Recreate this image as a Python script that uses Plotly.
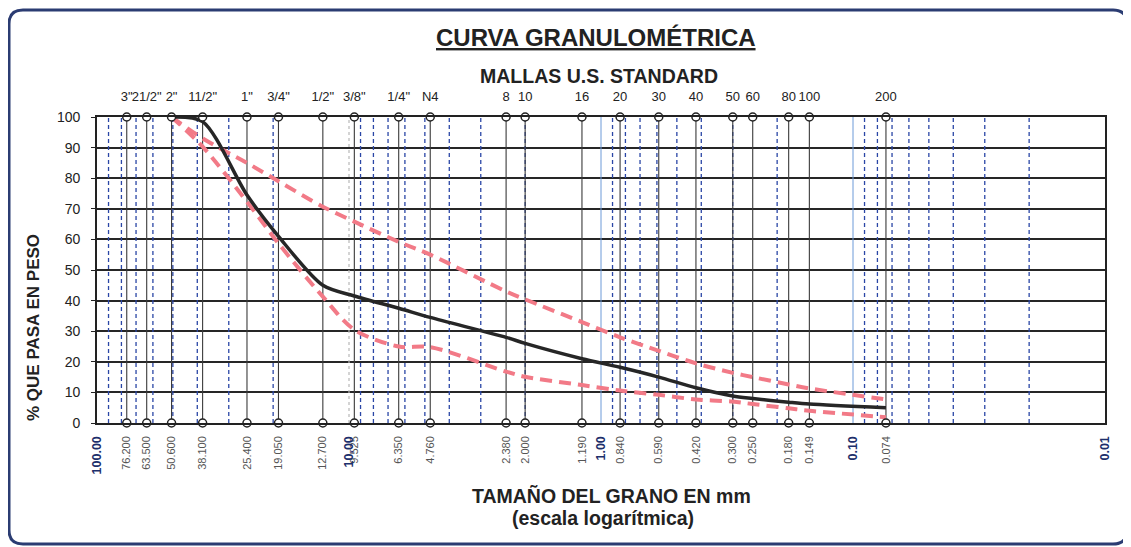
import plotly.graph_objects as go

# ---------------- data ----------------
sieve_mm = [76.2, 63.5, 50.6, 38.1, 25.4, 19.05, 12.7, 9.525, 6.35, 4.76, 2.38, 2.0,
            1.19, 0.84, 0.59, 0.42, 0.30, 0.25, 0.18, 0.149, 0.074]
sieve_names = ['3"', '21/2"', '2"', '11/2"', '1"', '3/4"', '1/2"', '3/8"', '1/4"', 'N4',
               '8', '10', '16', '20', '30', '40', '50', '60', '80', '100', '200']
sieve_labels = ['76.200', '63.500', '50.600', '38.100', '25.400', '19.050', '12.700', '9.525',
                '6.350', '4.760', '2.380', '2.000', '1.190', '0.840', '0.590', '0.420',
                '0.300', '0.250', '0.180', '0.149', '0.074']
decades = [100, 10, 1, 0.1, 0.01]
decade_labels = ['100.00', '10.00', '1.00', '0.10', '0.01']
minor_grid = [90, 80, 70, 60, 50, 40, 30, 20,
              9, 8, 7, 6, 5, 4, 3, 2,
              0.9, 0.8, 0.7, 0.6, 0.5, 0.4, 0.3, 0.2,
              0.09, 0.08, 0.07, 0.06, 0.05, 0.04, 0.03, 0.02]
y_ticks = [0, 10, 20, 30, 40, 50, 60, 70, 80, 90, 100]

curve_mm = [50.6, 38.1, 25.4, 19.05, 12.7, 9.525, 6.35, 4.76, 2.38, 2.0,
            1.19, 0.84, 0.59, 0.42, 0.30, 0.25, 0.18, 0.149, 0.074]
passing = [100, 98.5, 74.5, 61, 45, 41.5, 37.5, 34.5, 28, 26,
           21, 18.2, 15, 11.5, 8.8, 8, 6.8, 6.2, 5]
upper = [100, 93, 85, 79, 70.7, 65.8, 59.2, 55, 43, 40.4,
         33, 28, 23.6, 19.5, 16.4, 15, 12.6, 11.3, 7.7]
lower = [100, 90.3, 72.3, 58.7, 41.3, 30.5, 25, 24.8, 16.8, 15.1,
         12.4, 10.6, 9.2, 7.7, 7.0, 6.2, 4.8, 4.0, 1.9]

FONT = "Liberation Sans, Arial, sans-serif"


def vlines(vals, y0=0, y1=100):
    xs, ys = [], []
    for v in vals:
        xs += [v, v, None]
        ys += [y0, y1, None]
    return xs, ys


fig = go.Figure()

# minor blue dashed grid
xs, ys = vlines(minor_grid)
fig.add_trace(go.Scatter(x=xs, y=ys, mode="lines", hoverinfo="skip", showlegend=False,
                         line=dict(color="#2a46a6", width=1.3, dash="4px,3px")))
# decade lines
xs, ys = vlines([1, 0.1])
fig.add_trace(go.Scatter(x=xs, y=ys, mode="lines", hoverinfo="skip", showlegend=False,
                         line=dict(color="#6d9ad8", width=1)))
xs, ys = vlines([10])
fig.add_trace(go.Scatter(x=xs, y=ys, mode="lines", hoverinfo="skip", showlegend=False,
                         line=dict(color="#b8b8b8", width=1.2, dash="dot")))
# sieve lines
xs, ys = vlines(sieve_mm)
fig.add_trace(go.Scatter(x=xs, y=ys, mode="lines", hoverinfo="skip", showlegend=False,
                         line=dict(color="#3a3a3a", width=1.1)))

# limit curves
fig.add_trace(go.Scatter(x=curve_mm, y=upper, mode="lines", showlegend=False,
                         line=dict(color="#f27a87", width=4, dash="12px,7px",
                                   shape="spline", smoothing=0.9)))
fig.add_trace(go.Scatter(x=curve_mm, y=lower, mode="lines", showlegend=False,
                         line=dict(color="#f27a87", width=4, dash="12px,7px",
                                   shape="spline", smoothing=0.9)))
# gradation curve
fig.add_trace(go.Scatter(x=curve_mm, y=passing, mode="lines", showlegend=False,
                         line=dict(color="#262626", width=3.5, shape="spline", smoothing=0.8)))

# circle markers top and bottom
mk = dict(symbol="circle", size=8, color="white", line=dict(color="#222", width=1.5))
fig.add_trace(go.Scatter(x=sieve_mm, y=[100] * len(sieve_mm), xaxis="x2", mode="markers",
                         marker=mk, cliponaxis=False, showlegend=False, hoverinfo="skip"))
fig.add_trace(go.Scatter(x=sieve_mm, y=[0] * len(sieve_mm), mode="markers",
                         marker=mk, cliponaxis=False, showlegend=False, hoverinfo="skip"))

# bottom tick labels
tickvals = sieve_mm + decades
ticktext = sieve_labels + [
    "<b><span style='color:#1d2f6b;font-size:12.5px'>%s</span></b>" % t for t in decade_labels]

# page has an 8px body margin: offset figure margins accordingly
OFF = 8
fig.update_layout(
    width=1131, height=547,
    margin=dict(l=97 - OFF, r=26 + OFF, t=117 - OFF, b=124 + OFF),
    paper_bgcolor="white", plot_bgcolor="white",
    font=dict(family=FONT, color="#222"),
    xaxis=dict(type="log", range=[2, -2], tickmode="array", tickvals=tickvals,
               ticktext=ticktext, tickangle=-90, tickfont=dict(size=11, color="#555"),
               showgrid=False, zeroline=False, showline=True, linecolor="#222",
               linewidth=1.6, mirror=True, ticks="", ticklabelstandoff=7),
    xaxis2=dict(type="log", range=[2, -2], overlaying="x", side="top", tickmode="array",
                tickvals=sieve_mm, ticktext=sieve_names, tickangle=0,
                tickfont=dict(size=13, color="#222"), showgrid=False, zeroline=False,
                showline=False, ticks="", ticklabelstandoff=12),
    yaxis=dict(range=[0, 100], tickmode="array", tickvals=y_ticks,
               tickfont=dict(size=14, color="#222"), showgrid=True, gridcolor="#262626",
               gridwidth=1.8, zeroline=False, showline=True, linecolor="#222",
               linewidth=1.6, mirror=True, ticks="outside", ticklen=4, tickcolor="#222",
               ticklabelstandoff=8),
)


def px(x):
    return (x - 97) / 1008.0


def py(y):
    return (423 - y) / 306.0


# rounded page border (screen coords)
L, R, T, B, r = 9, 1127, 10, 544, 14
path = ("M {a} {b} L {c} {b} Q {R} {b} {R} {d} L {R} {e} Q {R} {B} {c} {B} "
        "L {a} {B} Q {L} {B} {L} {e} L {L} {d} Q {L} {b} {a} {b} Z").format(
    a=px(L + r), b=py(T), c=px(R - r), d=py(T + r), e=py(B - r),
    R=px(R), B=py(B), L=px(L))
fig.add_shape(type="path", path=path, xref="paper", yref="paper",
              line=dict(color="#2b3c72", width=3), layer="above")

ann = [
    dict(text="<u><b>CURVA GRANULOMÉTRICA</b></u>", x=px(596), y=py(37), size=24),
    dict(text="<b>MALLAS U.S. STANDARD</b>", x=px(599), y=py(76), size=19.5),
    dict(text="<b>TAMAÑO DEL GRANO EN mm</b>", x=px(611), y=py(496), size=19.5),
    dict(text="<b>(escala logarítmica)</b>", x=px(603), y=py(518), size=19.5),
]
for a in ann:
    fig.add_annotation(text=a["text"], x=a["x"], y=a["y"], xref="paper", yref="paper",
                       showarrow=False, xanchor="center", yanchor="middle",
                       font=dict(family=FONT, size=a["size"], color="#222"))
fig.add_annotation(text="<b>% QUE PASA EN PESO</b>", x=px(33), y=py(328), xref="paper",
                   yref="paper", showarrow=False, textangle=-90, xanchor="center",
                   yanchor="middle", font=dict(family=FONT, size=17, color="#222"))

fig.write_html("out.html")
